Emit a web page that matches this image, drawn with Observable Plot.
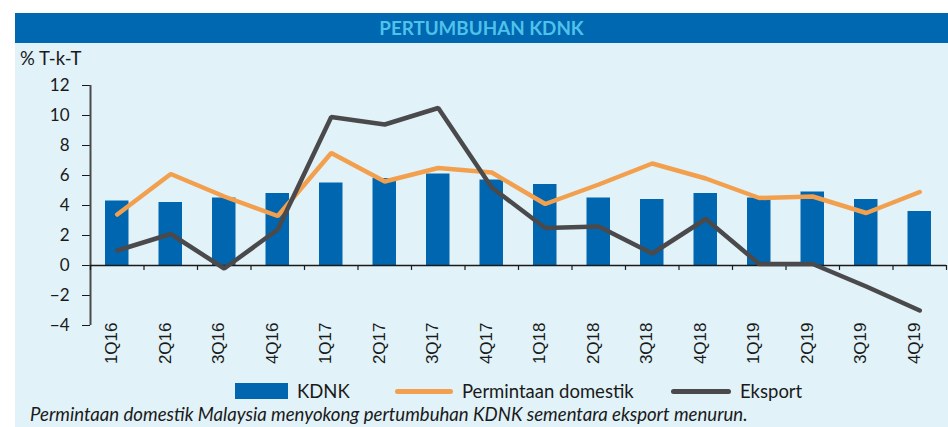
<!DOCTYPE html>
<html>
<head>
<meta charset="utf-8">
<script src="https://cdn.jsdelivr.net/npm/d3@7"></script>
<script src="https://cdn.jsdelivr.net/npm/@observablehq/plot@0.6"></script>
<style>
  html, body { margin: 0; padding: 0; background: #ffffff; }
  #wrap { position: relative; width: 948px; height: 427px; overflow: hidden; background: #ffffff; font-family: Lato, "Noto Sans", sans-serif; }
  #header { position: absolute; left: 15px; top: 13px; width: 933px; height: 30px; background: #0067b1;
    color: #4fc2ea; font-weight: 700; font-size: 18.8px; text-align: center; line-height: 30px; }
  #panel { position: absolute; left: 15px; top: 43px; width: 933px; height: 384px; background: #e1f2f8; }
  #unit { position: absolute; left: 20px; top: 47px; font-size: 18.5px; color: #1a1a1a; }
  #chart { position: absolute; left: 0; top: 43px; }
  .leg { position: absolute; font-size: 18.5px; color: #1a1a1a; line-height: 20px; }
  .sw { position: absolute; }
  #caption { position: absolute; left: 30px; top: 403px; font-size: 18.6px; font-style: italic; color: #1a1a1a; white-space: nowrap; }
</style>
</head>
<body>
<div id="wrap">
  <div id="header">PERTUMBUHAN KDNK</div>
  <div id="panel"></div>
  <div id="unit">% T-k-T</div>
  <div id="chart"></div>
  <div class="sw" style="left:235px; top:383px; width:53px; height:16px; background:#0066b0;"></div>
  <div class="leg" style="left:297px; top:381px;">KDNK</div>
  <div class="sw" style="left:395px; top:389px; width:58px; height:5px; border-radius:3px; background:#f2a04e;"></div>
  <div class="leg" style="left:462px; top:381px;">Permintaan domestik</div>
  <div class="sw" style="left:671px; top:389px; width:60px; height:5px; border-radius:3px; background:#4a4a4c;"></div>
  <div class="leg" style="left:740px; top:381px;">Eksport</div>
  <div id="caption">Permintaan domestik Malaysia menyokong pertumbuhan KDNK sementara eksport menurun.</div>
</div>
<script>
const quarters = ["1Q16","2Q16","3Q16","4Q16","1Q17","2Q17","3Q17","4Q17","1Q18","2Q18","3Q18","4Q18","1Q19","2Q19","3Q19","4Q19"];
const kdnk     = [4.3, 4.2, 4.5, 4.8, 5.5, 5.8, 6.1, 5.7, 5.4, 4.5, 4.4, 4.8, 4.5, 4.9, 4.4, 3.6];
const domestik = [3.4, 6.1, 4.6, 3.3, 7.5, 5.6, 6.5, 6.2, 4.1, 5.4, 6.8, 5.8, 4.5, 4.6, 3.5, 4.9];
const eksport  = [1.0, 2.1, -0.2, 2.4, 9.9, 9.4, 10.5, 5.2, 2.5, 2.6, 0.8, 3.1, 0.1, 0.1, -1.4, -3.0];
const yTicks   = [-4, -2, 0, 2, 4, 6, 8, 10, 12];

const data = quarters.map((q, i) => ({q, i, c: i + 0.5, kdnk: kdnk[i], domestik: domestik[i], eksport: eksport[i]}));
const bounds = d3.range(0, quarters.length + 1);

const chart = Plot.plot({
  width: 948,
  height: 340,
  marginTop: 42,
  marginBottom: 58,
  marginLeft: 90,
  marginRight: 2,
  style: {background: "transparent", fontFamily: "Lato, sans-serif", fontSize: "17px", color: "#1a1a1a", overflow: "visible"},
  x: {domain: [0, quarters.length], axis: null},
  y: {domain: [-4, 12], ticks: yTicks, tickSize: 8, tickPadding: 13, label: null},
  marks: [
    Plot.rectY(data, {x: "i", y: "kdnk", interval: 1, insetLeft: 15, insetRight: 15, fill: "#0066b0"}),
    Plot.ruleX([0], {stroke: "#4a4a4a", strokeWidth: 2}),
    Plot.ruleY([0], {stroke: "#1a1a1a", strokeWidth: 1.5}),
    Plot.ruleX(bounds, {x: d => d, y1: 0, y2: -0.33, stroke: "#1a1a1a", strokeWidth: 1.2}),
    Plot.line(data, {x: "c", y: "domestik", stroke: "#f2a04e", strokeWidth: 4.5, strokeLinecap: "round", strokeLinejoin: "miter"}),
    Plot.line(data, {x: "c", y: "eksport", stroke: "#4a4a4c", strokeWidth: 4.5, strokeLinecap: "round", strokeLinejoin: "miter"}),
    Plot.text(data, {x: "c", frameAnchor: "bottom", text: "q", rotate: -90, textAnchor: "end", dy: -3,
      fontFamily: "Liberation Sans, Arial, sans-serif", fontSize: 17, fill: "#1a1a1a"})
  ]
});
document.getElementById("chart").appendChild(chart);
</script>
</body>
</html>
